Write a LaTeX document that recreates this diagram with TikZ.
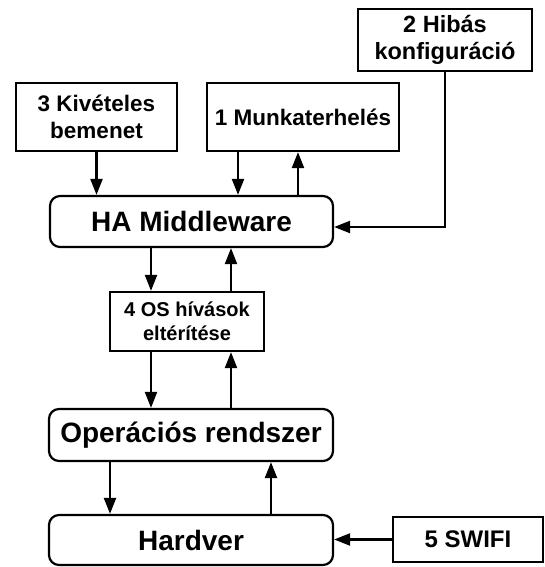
\documentclass[tikz,border=0pt]{standalone}
\usepackage{fontspec}
\setmainfont{Liberation Sans}
\usetikzlibrary{arrows.meta}
\begin{document}
\begin{tikzpicture}[x=1pt,y=-1pt,
  box/.style={draw=black,line width=2.2pt,fill=white,align=center,inner sep=0pt,font=\bfseries},
  rbox/.style={box,rounded corners=10pt},
  arr/.style={line width=2.2pt,-{Triangle[length=16pt,width=12pt]}},
  fbig/.style={font=\bfseries\fontsize{28}{33}\selectfont},
  fmid/.style={font=\bfseries\fontsize{22.5}{27}\selectfont},
  fsmall/.style={font=\bfseries\fontsize{20}{24}\selectfont}]
\useasboundingbox (0,0) rectangle (544,567);
\node[box,font=\bfseries\fontsize{23.5}{27}\selectfont,minimum width=174pt,minimum height=62pt] (b2) at (445,40) {2 Hibás\\konfiguráció};
\node[box,fmid,minimum width=161pt,minimum height=68pt] (b3) at (96.5,117) {3 Kivételes\\bemenet};
\node[box,fmid,minimum width=192pt,minimum height=68pt] (b1) at (303,117) {1 Munkaterhelés};
\node[rbox,fbig,minimum width=283pt,minimum height=51pt] (ha) at (191.5,221.5) {HA Middleware};
\node[box,fsmall,minimum width=154pt,minimum height=59pt] (b4) at (187,321.5) {4 OS hívások\\eltérítése};
\node[rbox,fbig,minimum width=284pt,minimum height=52pt] (os) at (191,435) {Operációs rendszer};
\node[rbox,fbig,minimum width=284pt,minimum height=50pt] (hw) at (191,540) {Hardver};
\node[box,font=\bfseries\fontsize{24}{28}\selectfont,minimum width=150pt,minimum height=45pt] (sw) at (468,539.5) {5 SWIFI};
\coordinate (xa) at (238,0);
\coordinate (xb) at (298,0);
\coordinate (xc) at (151,0);
\coordinate (xd) at (231,0);
\coordinate (xe) at (110,0);
\coordinate (xf) at (271,0);
\coordinate (ya) at (0,227);
\draw[arr] (b3.south) -- (b3.south |- ha.north);
\draw[arr] (b1.south -| xa) -- (ha.north -| xa);
\draw[arr] (ha.north -| xb) -- (b1.south -| xb);
\draw[arr] (b2.south) |- (ha.east |- ya);
\draw[arr] (ha.south -| xc) -- (b4.north -| xc);
\draw[arr] (b4.north -| xd) -- (ha.south -| xd);
\draw[arr] (b4.south -| xc) -- (os.north -| xc);
\draw[arr] (os.north -| xd) -- (b4.south -| xd);
\draw[arr] (os.south -| xe) -- (hw.north -| xe);
\draw[arr] (hw.north -| xf) -- (os.south -| xf);
\draw[arr] (sw.west) -- (hw.east |- sw.west);
\end{tikzpicture}
\end{document}
